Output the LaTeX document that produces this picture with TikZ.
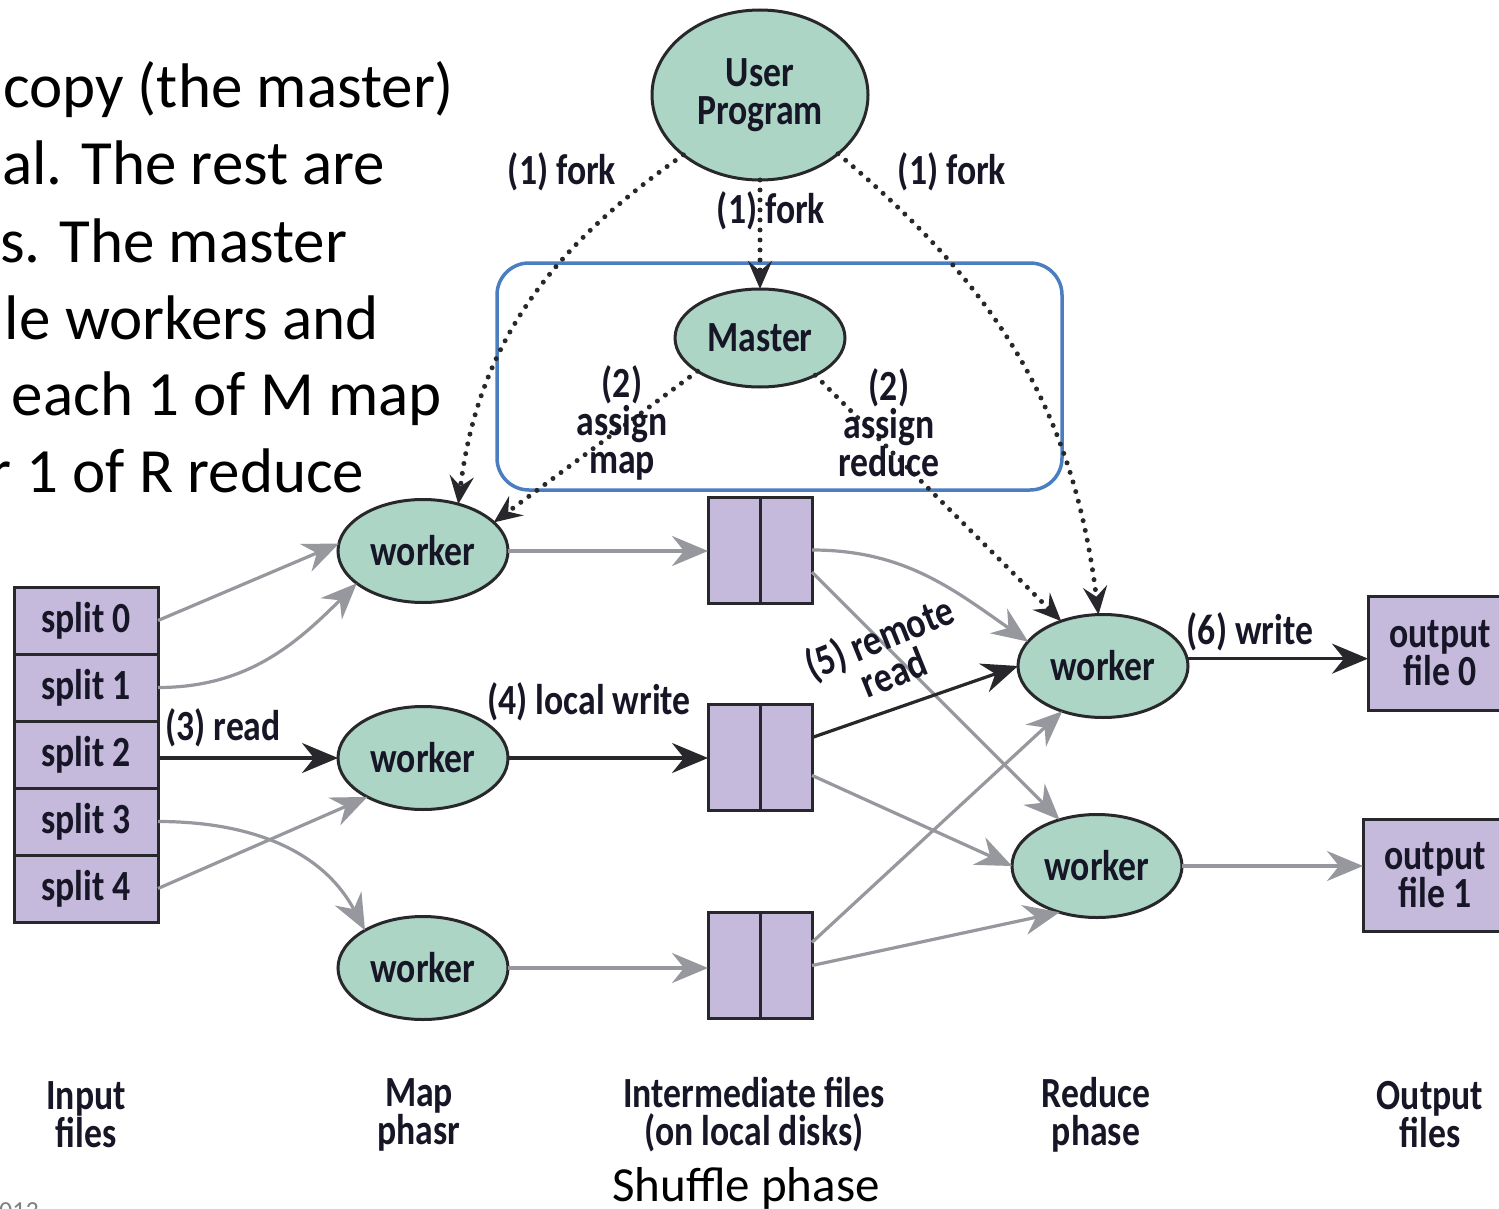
\documentclass[tikz,border=0pt]{standalone}
\usepackage{fontspec}
\setmainfont{Carlito}
\newfontfamily\dfont[FakeStretch=0.83]{Carlito}
\usetikzlibrary{shapes.geometric, arrows.meta}
\definecolor{mint}{RGB}{172,213,198}
\definecolor{lav}{RGB}{197,185,220}
\definecolor{edgec}{RGB}{40,40,44}
\definecolor{arrg}{RGB}{150,152,158}
\definecolor{boxblue}{RGB}{74,126,192}
\definecolor{txt}{RGB}{22,22,38}
\begin{document}
\begin{tikzpicture}[x=1pt,y=-1pt,
  every node/.style={inner sep=0pt, outer sep=0pt},
  dlabel/.style={font=\dfont\bfseries\fontsize{43}{38}\selectfont, text=txt, align=center},
  worker/.style={ellipse, draw=edgec, fill=mint, line width=3pt, minimum width=170pt, minimum height=103pt, dlabel},
  fbox/.style={rectangle, draw=edgec, fill=lav, line width=3pt, dlabel},
  tipbig/.style={-{Stealth[length=36pt,width=30pt,inset=12pt]}},
  garr/.style={tipbig, draw=arrg, line width=3.2pt},
  barr/.style={tipbig, draw=edgec, line width=3.2pt},
  dotarr/.style={-{Stealth[length=28pt,width=24pt,inset=10pt]}, draw=edgec, line width=5pt, line cap=round, dash pattern=on 0pt off 10pt},
  bodytext/.style={font=\fontsize{63}{77}\selectfont, anchor=base west, text=black},
]
\useasboundingbox (0,0) rectangle (1499,1209);
\fill[white] (0,0) rectangle (1499,1209);

% left body text (cut off at the left)
\node[bodytext] (t1) at (3,108) {copy (the master)};
\node[bodytext] (t2) at (2,185) {al. The rest are};
\node[bodytext] (t3) at (0,262) {s. The master};
\node[bodytext] (t4) at (5,339) {le workers and};
\node[bodytext] (t5) at (12,415) {each 1 of M map};
\node[bodytext] (t6) at (-10,492) {r 1 of R reduce};

% blue box
\draw[boxblue, line width=3.5pt, rounded corners=32pt] (497,263) rectangle (1062,490);

% nodes
\node[worker, minimum width=216pt, minimum height=170pt] (up) at (760,95) {User\\Program};
\node[worker, minimum height=98pt] (master) at (760,338) {Master};
\node[worker] (m1) at (423,551) {worker};
\node[worker] (m2) at (423,758) {worker};
\node[worker] (m3) at (423,968) {worker};
\node[worker] (r1) at (1103,666) {worker};
\node[worker] (r2) at (1097,866) {worker};

\node[fbox, minimum width=144pt, minimum height=67pt] (s0) at (86,620.5) {split 0};
\node[fbox, minimum width=144pt, minimum height=67pt] (s1) at (86,687.5) {split 1};
\node[fbox, minimum width=144pt, minimum height=67pt] (s2) at (86,754.5) {split 2};
\node[fbox, minimum width=144pt, minimum height=67pt] (s3) at (86,821.5) {split 3};
\node[fbox, minimum width=144pt, minimum height=67pt] (s4) at (86,888.5) {split 4};

\node[fbox, minimum width=104pt, minimum height=106pt] (i1) at (760,550) {};
\node[fbox, minimum width=104pt, minimum height=106pt] (i2) at (760,757.5) {};
\node[fbox, minimum width=104pt, minimum height=106pt] (i3) at (760,965.5) {};
\foreach \n in {i1,i2,i3} \draw[edgec, line width=3pt] (\n.north) -- (\n.south);

\node[fbox, minimum width=144pt, minimum height=114pt] (o0) at (1440,653) {output\\file 0};
\node[fbox, minimum width=144pt, minimum height=112pt] (o1) at (1435,875) {output\\file 1};

% connectors input -> map
\draw[garr] (s0.east) -- (m1.175);
\draw[garr] (s1.east) to[out=0,in=225] (m1.206);
\draw[barr] (s2.east |- m2.west) -- (m2.west);
\draw[garr] (s3.east) to[out=0,in=118] (m3.147);
\draw[garr] (s4.east) -- (m2.215);

% map -> intermediate
\draw[garr] (m1.east) -- (m1.east -| i1.west);
\draw[barr] (m2.east) -- (m2.east -| i2.west);
\draw[garr] (m3.east) -- (m3.east -| i3.west);

% intermediate -> reduce
\draw[garr] (i1.east) to[out=0,in=145] (r1.162);
\draw[garr] (i1.-23) -- (r2.129);
\draw[barr] (i2.21) -- (r1.west);
\draw[garr] (i2.-19) -- (r2.west);
\draw[garr] (i3.24) -- (r1.228);
\draw[garr] (i3.east) -- (r2.231);

% reduce -> output
\draw[barr] (r1.5) -- (r1.5 -| o0.west);
\draw[garr] (r2.east) -- (r2.east -| o1.west);

% dotted control connectors
\draw[dotarr] (up.218) to[out=215,in=83] (m1.53);
\draw[dotarr] (up.south) -- (master.north);
\draw[dotarr] (up.-37) to[out=-40,in=97] (r1.95);
\draw[dotarr] (master.208) -- (m1.22);
\draw[dotarr] (master.-34) -- (r1.133);

% labels
\node[dlabel] (lf1) at (562,172) {(1) fork};
\node[dlabel] (lf2) at (771,211) {(1) fork};
\node[dlabel] (lf3) at (952,172) {(1) fork};
\node[dlabel] (la2) at (622,423) {(2)\\assign\\map};
\node[dlabel] (lr2) at (889,423) {(2)\\assign\\reduce};
\node[dlabel] (l3) at (223,728) {(3) read};
\node[dlabel] (l4) at (589,702) {(4) local write};
\node[dlabel, rotate=22] (l5) at (886,654) {(5) remote\\read};
\node[dlabel] (l6) at (1250,632) {(6) write};

% bottom labels
\node[dlabel] (b1) at (86,1115) {Input\\files};
\node[dlabel] (b2) at (419,1115) {Map\\phasr};
\node[dlabel] (b3) at (754,1115) {Intermediate files\\(on local disks)};
\node[dlabel] (b4) at (1096,1115) {Reduce\\phase};
\node[dlabel] (b5) at (1430,1115) {Output\\files};
\node[font=\fontsize{49}{50}\selectfont, anchor=base] (shuf) at (746,1201) {Shuffle phase};
\node[font=\fontsize{26}{28}\selectfont, anchor=base west, text=gray] (yr) at (-14,1219) {2013};
\end{tikzpicture}
\end{document}
